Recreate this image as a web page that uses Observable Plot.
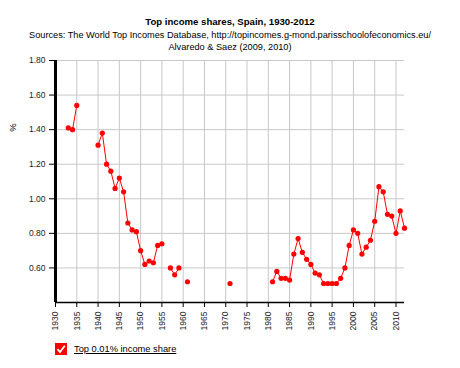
<!DOCTYPE html>
<html>
<head>
<meta charset="utf-8">
<script src="https://cdn.jsdelivr.net/npm/d3@7"></script>
<script src="https://cdn.jsdelivr.net/npm/@observablehq/plot@0.6"></script>
<style>
  html, body { margin: 0; padding: 0; background: #fff; }
  body { width: 460px; height: 368px; position: relative; font-family: "Liberation Sans", Arial, sans-serif; color: #000; }
  .t { position: absolute; left: 0; width: 460px; text-align: center; font-size: 9.2px; line-height: 12px; }
  #title { top: 16px; font-weight: bold; font-size: 9.6px; }
  #sub1 { top: 29px; }
  #sub2 { top: 41px; }
  #chart { position: absolute; left: 0; top: 54px; }
  #ylab { position: absolute; left: 8px; top: 122px; font-size: 9.5px; transform: rotate(-90deg); }
  #legend { position: absolute; left: 55px; top: 343px; display: flex; align-items: center; font-size: 9.3px; }
  #legend span { text-decoration: underline; }
</style>
</head>
<body>
<div class="t" id="title">Top income shares, Spain, 1930-2012</div>
<div class="t" id="sub1">Sources: The World Top Incomes Database, http://topincomes.g-mond.parisschoolofeconomics.eu/</div>
<div class="t" id="sub2">Alvaredo &amp; Saez (2009, 2010)</div>
<div id="ylab">%</div>
<div id="chart"></div>
<div id="legend"><svg width="12" height="12" viewBox="0 0 12 12" style="margin-right:7px"><rect width="12" height="12" fill="#ff0000"/><path d="M2.5 6.2 L5 9 L9.8 2.8" fill="none" stroke="#fff" stroke-width="1.8"/></svg><span>Top 0.01% income share</span></div>
<script>
const years = [1933,1934,1935,1936,1937,1938,1939,1940,1941,1942,1943,1944,1945,1946,1947,1948,1949,1950,1951,1952,1953,1954,1955,1956,1957,1958,1959,1960,1961,1962,1970,1971,1972,1980,1981,1982,1983,1984,1985,1986,1987,1988,1989,1990,1991,1992,1993,1994,1995,1996,1997,1998,1999,2000,2001,2002,2003,2004,2005,2006,2007,2008,2009,2010,2011,2012];
const shares = [1.41,1.40,1.54,null,null,null,null,1.31,1.38,1.20,1.16,1.06,1.12,1.04,0.86,0.82,0.81,0.70,0.62,0.64,0.63,0.73,0.74,null,0.60,0.56,0.60,null,0.52,null,null,0.51,null,null,0.52,0.58,0.54,0.54,0.53,0.68,0.77,0.69,0.65,0.62,0.57,0.56,0.51,0.51,0.51,0.51,0.54,0.60,0.73,0.82,0.80,0.68,0.72,0.76,0.87,1.07,1.04,0.91,0.90,0.80,0.93,0.83];
const xTicks = [1930,1935,1940,1945,1950,1955,1960,1965,1970,1975,1980,1985,1990,1995,2000,2005,2010];
const yTicks = [0.6,0.8,1.0,1.2,1.4,1.6,1.8];
const seriesName = "Top 0.01% income share";

const data = years.map((y, i) => ({year: y, value: shares[i]}));
const pts = data.filter(d => d.value != null);

const chart = Plot.plot({
  width: 460,
  height: 283,
  marginTop: 6,
  marginLeft: 55,
  marginRight: 56,
  marginBottom: 35,
  style: {fontFamily: "'Liberation Sans', Arial, sans-serif", fontSize: "8.5px", color: "#222", background: "transparent"},
  x: {domain: [1930, 2012]},
  y: {domain: [0.4, 1.8]},
  marks: [
    Plot.gridX(xTicks, {stroke: "#c8c8c8", strokeOpacity: 1}),
    Plot.gridY(yTicks, {stroke: "#c8c8c8", strokeOpacity: 1}),
    Plot.axisY({ticks: yTicks, tickFormat: d => d.toFixed(2), tickSize: 6, tickPadding: 4, label: null, stroke: "#000"}),
    Plot.axisX({ticks: xTicks, tickFormat: d => String(d), tickRotate: -90, tickSize: 5, tickPadding: 4, label: null, stroke: "#000"}),
    Plot.ruleX([1930], {stroke: "#000", strokeWidth: 3}),
    Plot.ruleY([0.4], {stroke: "#000", strokeWidth: 1.5}),
    Plot.line(data, {x: "year", y: "value", stroke: "#ff0000", strokeWidth: 1}),
    Plot.dot(pts, {x: "year", y: "value", r: 2.6, fill: "#ff0000", stroke: "none"})
  ]
});
document.getElementById("chart").appendChild(chart);
</script>
</body>
</html>
